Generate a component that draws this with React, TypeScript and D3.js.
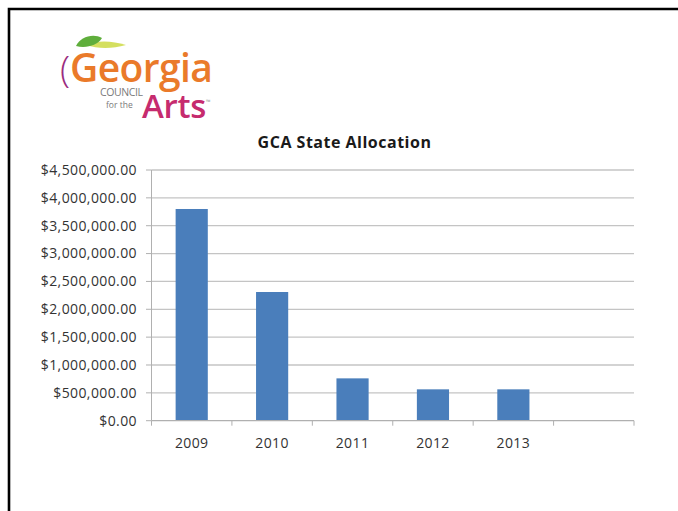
import React from "react";
import * as d3 from "d3";

const categories: string[] = ["2009", "2010", "2011", "2012", "2013", ""];
const allocations: (number | null)[] = [3800000, 2310000, 760000, 563000, 563000, null];
const yTicks: number[] = [0, 500000, 1000000, 1500000, 2000000, 2500000, 3000000, 3500000, 4000000, 4500000];
const chartTitle = "GCA State Allocation";

const W = 678;
const H = 511;

export default function App() {
  const x = d3
    .scaleBand<string>()
    .domain(categories.map((c, i) => String(i)))
    .range([151.5, 634])
    .paddingInner(0.6)
    .paddingOuter(0.3);
  const y = d3.scaleLinear().domain([0, 4500000]).range([420.7, 170]);
  const step = x.step();
  const x0 = 151.5;
  const fmt = (v: number) => "$" + d3.format(",.2f")(v);
  const font = "'Open Sans', sans-serif";
  const boundaries = d3.range(categories.length + 1).map((i) => x0 + i * step);

  return (
    <svg
      width={W}
      height={H}
      style={{ position: "absolute", left: 0, top: 0, background: "#fff" }}
      fontFamily={font}
    >
      <rect x={0} y={0} width={W} height={H} fill="#fff" />
      <path d={`M9 ${H} V9 H${W}`} fill="none" stroke="#000" strokeWidth={2.6} />

      {/* Logo */}
      <g>
        <path
          d="M86 45 C98 40, 112 41, 126 45 C112 49, 98 49, 86 45 Z"
          fill="#cfdc4e"
          opacity={0.9}
        />
        <path
          d="M76 46 C80 37, 93 33, 102 38 C98 45, 86 49, 76 46 Z"
          fill="#5fae3c"
        />
        <text x={60} y={82} fontSize={37} fill="#9b2c7e" fontWeight={300}>(</text>
        <text x={70} y={82} fontSize={39} fill="#ea7a2a" fontWeight={600} letterSpacing={-0.6}>
          Georgia
        </text>
        <text x={100} y={96} fontSize={10.5} fill="#7a7a7a" letterSpacing={-0.4}>
          COUNCIL
        </text>
        <text x={106} y={108} fontSize={8.5} fill="#7a7a7a">
          for the
        </text>
        <text x={142} y={118} fontSize={33} fill="#c62b6e" fontWeight={600} letterSpacing={-0.3}>
          Arts
        </text>
        <text x={206} y={104} fontSize={6} fill="#999">™</text>
      </g>

      <text
        x={344.5}
        y={148}
        textAnchor="middle"
        fontSize={16}
        fontWeight="bold"
        letterSpacing={0.5}
        fill="#1a1a1a"
      >
        {chartTitle}
      </text>

      {/* gridlines */}
      {yTicks.map((t) => (
        <g key={t}>
          {t > 0 && (
            <line x1={x0} x2={634} y1={y(t)} y2={y(t)} stroke="#c4c4c4" strokeWidth={1.3} />
          )}
          <line x1={146} x2={x0} y1={y(t)} y2={y(t)} stroke="#b0b0b0" strokeWidth={1} />
          <text
            x={137}
            y={y(t)}
            dy="0.35em"
            textAnchor="end"
            fontSize={14}
            letterSpacing={0.4}
            fill="#333"
          >
            {fmt(t)}
          </text>
        </g>
      ))}

      {/* bars */}
      {categories.map((c, i) =>
        allocations[i] == null ? null : (
          <rect
            key={i}
            x={x(String(i))}
            y={y(allocations[i] as number)}
            width={x.bandwidth()}
            height={y(0) - y(allocations[i] as number)}
            fill="#4a7ebb"
          />
        )
      )}

      {/* axes */}
      <line x1={x0} x2={x0} y1={170} y2={y(0)} stroke="#b0b0b0" strokeWidth={1} />
      <line x1={x0} x2={634} y1={y(0)} y2={y(0)} stroke="#b0b0b0" strokeWidth={1.3} />
      {boundaries.map((b, i) => (
        <line key={i} x1={b} x2={b} y1={y(0)} y2={y(0) + 5} stroke="#b0b0b0" strokeWidth={1} />
      ))}
      {categories.map((c, i) => (
        <text
          key={i}
          x={(x(String(i)) as number) + x.bandwidth() / 2}
          y={443}
          dy="0.35em"
          textAnchor="middle"
          fontSize={14}
          letterSpacing={0.4}
          fill="#333"
        >
          {c}
        </text>
      ))}
    </svg>
  );
}
